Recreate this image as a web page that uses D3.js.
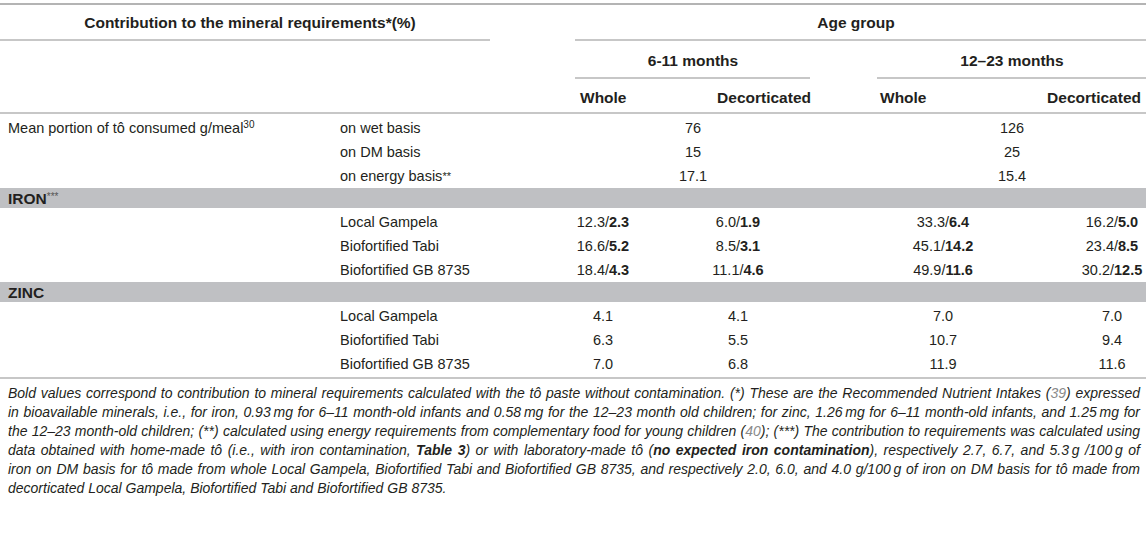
<!DOCTYPE html>
<html><head><meta charset="utf-8">
<script src="https://cdn.jsdelivr.net/npm/d3@7"></script>
<style>
html,body{margin:0;padding:0;background:#fff;}
svg{display:block;}
</style></head><body>
<svg id="chart" width="1146" height="556"></svg>
<script>
// ---------- data ----------
const headerTitle = "Contribution to the mineral requirements*(%)";
const ageGroupLabel = "Age group";
const ageGroups = ["6-11 months", "12–23 months"];
const columns = ["w611", "d611", "w1223", "d1223"];
const columnLabels = ["Whole", "Decorticated", "Whole", "Decorticated"];
const portionLabel = "Mean portion of tô consumed g/meal";
const portionRef = "30";
const portionBases = ["on wet basis", "on DM basis", "on energy basis**"];
const portion611 = [76, 15, 17.1];
const portion1223 = [126, 25, 15.4];
const varieties = ["Local Gampela", "Biofortified Tabi", "Biofortified GB 8735"];
const ironLabel = "IRON";
const ironMark = "***";
const ironW611 = [12.3, 16.6, 18.4], ironW611Bold = [2.3, 5.2, 4.3];
const ironD611 = [6.0, 8.5, 11.1], ironD611Bold = [1.9, 3.1, 4.6];
const ironW1223 = [33.3, 45.1, 49.9], ironW1223Bold = [6.4, 14.2, 11.6];
const ironD1223 = [16.2, 23.4, 30.2], ironD1223Bold = [5.0, 8.5, 12.5];
const zincLabel = "ZINC";
const zincW611 = [4.1, 6.3, 7.0];
const zincD611 = [4.1, 5.5, 6.8];
const zincW1223 = [7.0, 10.7, 11.9];
const zincD1223 = [7.0, 9.4, 11.6];
const footnoteLines = [
  [["Bold values correspond to contribution to mineral requirements calculated with the tô paste without contamination. (*) These are the Recommended Nutrient Intakes (", "i"], ["39", "g"], [") expressed", "i"]],
  [["in bioavailable minerals, i.e., for iron, 0.93\u2009mg for 6–11 month-old infants and 0.58\u2009mg for the 12–23 month old children; for zinc, 1.26\u2009mg for 6–11 month-old infants, and 1.25\u2009mg for", "i"]],
  [["the 12–23 month-old children; (**) calculated using energy requirements from complementary food for young children (", "i"], ["40", "g"], ["); (***) The contribution to requirements was calculated using", "i"]],
  [["data obtained with home-made tô (i.e., with iron contamination, ", "i"], ["Table 3", "b"], [") or with laboratory-made tô (", "i"], ["no expected iron contamination", "b"], ["), respectively 2.7, 6.7, and 5.3\u2009g /100\u2009g of", "i"]],
  [["iron on DM basis for tô made from whole Local Gampela, Biofortified Tabi and Biofortified GB 8735, and respectively 2.0, 6.0, and 4.0 g/100\u2009g of iron on DM basis for tô made from", "i"]],
  [["decorticated Local Gampela, Biofortified Tabi and Biofortified GB 8735.", "i"]]
];

// ---------- styles ----------
const FONT = '"Liberation Sans", Arial, Helvetica, sans-serif';
const INK = "#231f20";
const RULE = "#b4b4b4";
const BAND = "#bfc0c3";
const FS = 14.5;
const FSB = 15.5;
const FN = 14;
const W = 1146;

const svg = d3.select("#chart").style("font-family", FONT);
const fmt1 = d3.format(".1f");

// ---------- scales ----------
const xCol = d3.scaleOrdinal().domain(columns).range([603, 738, 943, 1112]);
const xAge = d3.scaleOrdinal().domain(ageGroups).range([693, 1012]);
const xStub = d3.scaleOrdinal().domain(["main", "sub"]).range([8, 340]);

// row layout (accumulated)
const rows = [];
let yAcc = 116;
function addRow(key, kind, h) { rows.push({ key, kind, y0: yAcc, y1: yAcc + h }); yAcc += h; }
portionBases.forEach((b, i) => addRow("p" + i, "row", 24));
addRow("iron", "band", 20); yAcc += 2;
varieties.forEach((v, i) => addRow("fe" + i, "row", 24));
addRow("zinc", "band", 20); yAcc += 2;
varieties.forEach((v, i) => addRow("zn" + i, "row", 24));
yAcc += 2;
const bottomRuleY = yAcc;
const yRow = d3.scaleOrdinal().domain(rows.map(r => r.key)).range(rows.map(r => (r.y0 + r.y1) / 2));
const rowByKey = Object.fromEntries(rows.map(r => [r.key, r]));

// ---------- rules ----------
function rule(x1, x2, y, w = 1.6) {
  svg.append("line").attr("x1", x1).attr("x2", x2).attr("y1", y).attr("y2", y)
    .attr("stroke", RULE).attr("stroke-width", w);
}
rule(0, W, 4, 2);
rule(0, 490, 40);
rule(575, W, 40);
rule(575, 810, 78);
rule(877, W, 78);
rule(0, W, 113);
rule(0, W, bottomRuleY);

// bands
["iron", "zinc"].forEach(k => {
  const r = rowByKey[k];
  svg.append("rect").attr("x", 0).attr("y", r.y0).attr("width", W).attr("height", r.y1 - r.y0).attr("fill", BAND);
});

function txt(x, y, s, opts = {}) {
  return svg.append("text").attr("x", x).attr("y", y).attr("dy", "0.36em")
    .attr("font-size", opts.size || (opts.bold ? FSB : FS)).attr("fill", INK)
    .attr("font-weight", opts.bold ? "bold" : null)
    .attr("text-anchor", opts.anchor || "start").text(s);
}

// ---------- header ----------
txt(250, 22, headerTitle, { bold: true, anchor: "middle" });
txt(856, 22, ageGroupLabel, { bold: true, anchor: "middle" });
ageGroups.forEach(g => txt(xAge(g), 60, g, { bold: true, anchor: "middle" }));
const headerAnchor = { w611: [580, "start"], d611: [811, "end"], w1223: [880, "start"], d1223: [1141, "end"] };
columns.forEach((c, i) => txt(headerAnchor[c][0], 97, columnLabels[i], { bold: true, anchor: headerAnchor[c][1] }));

// ---------- portion rows ----------
{
  const t = txt(xStub("main"), yRow("p0"), portionLabel);
  t.append("tspan").attr("font-size", 10).attr("dy", "-0.55em").text(portionRef);
}
portionBases.forEach((b, i) => {
  const m = b.match(/^(.*?)(\*+)$/);
  const t = txt(xStub("sub"), yRow("p" + i), m ? m[1] : b);
  if (m) t.append("tspan").attr("font-size", 11).attr("dy", "-0.15em").text(m[2]);
  txt(xAge(ageGroups[0]), yRow("p" + i), String(portion611[i]), { anchor: "middle" });
  txt(xAge(ageGroups[1]), yRow("p" + i), String(portion1223[i]), { anchor: "middle" });
});

// ---------- bands labels ----------
{
  const t = txt(xStub("main"), yRow("iron"), ironLabel, { bold: true });
  t.append("tspan").attr("font-weight", "normal").attr("font-size", 10).attr("fill", "#555").attr("dy", "-0.35em").text(ironMark);
  txt(xStub("main"), yRow("zinc"), zincLabel, { bold: true });
}

// ---------- iron rows ----------
const ironCols = { w611: [ironW611, ironW611Bold], d611: [ironD611, ironD611Bold], w1223: [ironW1223, ironW1223Bold], d1223: [ironD1223, ironD1223Bold] };
varieties.forEach((v, i) => {
  txt(xStub("sub"), yRow("fe" + i), v);
  columns.forEach(c => {
    const t = txt(xCol(c), yRow("fe" + i), fmt1(ironCols[c][0][i]) + "/", { anchor: "middle" });
    t.append("tspan").attr("font-weight", "bold").text(fmt1(ironCols[c][1][i]));
  });
});

// ---------- zinc rows ----------
const zincCols = { w611: zincW611, d611: zincD611, w1223: zincW1223, d1223: zincD1223 };
varieties.forEach((v, i) => {
  txt(xStub("sub"), yRow("zn" + i), v);
  columns.forEach(c => txt(xCol(c), yRow("zn" + i), fmt1(zincCols[c][i]), { anchor: "middle" }));
});

// ---------- footnote (justified) ----------
const fnLeft = 8, fnRight = 1140, fnTop = bottomRuleY + 15, fnStep = 19;
const styleAttr = {
  i: { style: "italic", weight: "normal", fill: INK },
  b: { style: "italic", weight: "bold", fill: INK },
  g: { style: "italic", weight: "normal", fill: "#8a8a8a" }
};
function makeWord(parts, y) {
  const t = svg.append("text").attr("y", y).attr("dy", "0.36em").attr("font-size", FN);
  parts.forEach(([s, st]) => {
    const a = styleAttr[st];
    t.append("tspan").attr("font-style", a.style).attr("font-weight", a.weight).attr("fill", a.fill).text(s);
  });
  return t;
}
const spaceW = (() => {
  const t = svg.append("text").attr("font-size", FN).attr("font-style", "italic").text("a a");
  const t2 = svg.append("text").attr("font-size", FN).attr("font-style", "italic").text("aa");
  const d = t.node().getComputedTextLength() - t2.node().getComputedTextLength();
  t.remove(); t2.remove(); return d;
})();
footnoteLines.forEach((line, li) => {
  const words = [[]];
  line.forEach(([s, st]) => {
    const pieces = s.split(" ");
    pieces.forEach((p, k) => {
      if (k > 0) words.push([]);
      if (p.length) words[words.length - 1].push([p, st]);
    });
  });
  const ws = words.filter(w => w.length);
  const y = fnTop + li * fnStep;
  const els = ws.map(w => makeWord(w, y));
  const widths = els.map(e => e.node().getComputedTextLength());
  const total = d3.sum(widths);
  const last = li === footnoteLines.length - 1;
  const gap = last ? spaceW : (fnRight - fnLeft - total) / (ws.length - 1);
  let x = fnLeft;
  els.forEach((e, k) => { e.attr("x", x); x += widths[k] + gap; });
});
</script>
</body></html>
